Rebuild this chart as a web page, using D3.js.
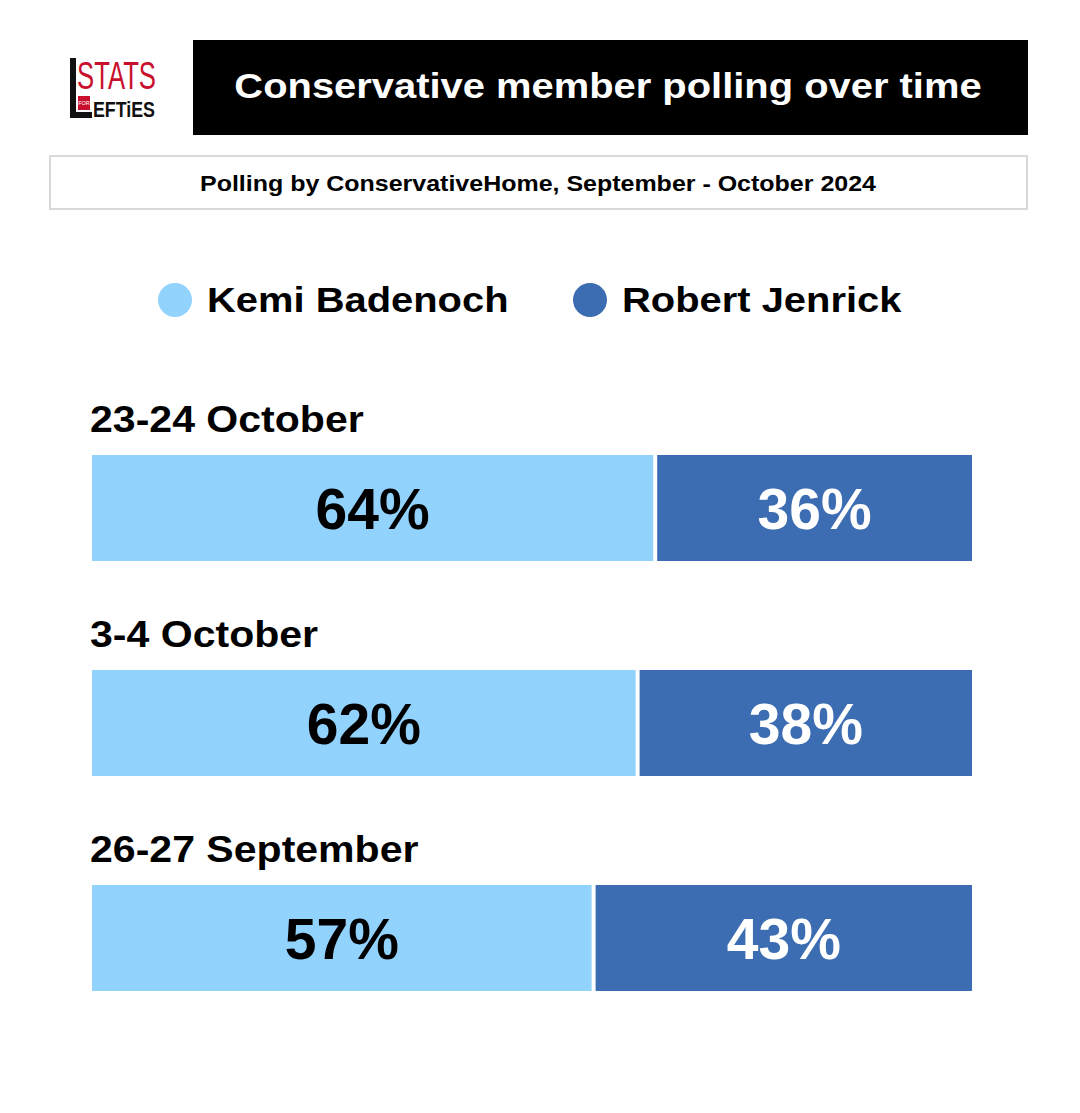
<!DOCTYPE html>
<html><head><meta charset="utf-8">
<script src="https://cdn.jsdelivr.net/npm/d3@7"></script>
<style>body{margin:0;background:#fff;}svg{display:block;font-family:"Liberation Sans",Arial,Helvetica,sans-serif;}</style>
</head><body>
<script>
const categories = ["23-24 October", "3-4 October", "26-27 September"];
const seriesNames = ["Kemi Badenoch", "Robert Jenrick"];
const badenoch = [64, 62, 57];
const jenrick = [36, 38, 43];
const colors = ["#92D3FE", "#3C6CB1"];
const labelColors = ["#000", "#fff"];

const W = 1080, H = 1113;
const svg = d3.select("body").append("svg").attr("width", W).attr("height", H);

function stretch(sel, f) {
  const n = sel.node().getComputedTextLength();
  sel.attr("textLength", n * f).attr("lengthAdjust", "spacingAndGlyphs");
  return sel;
}

// Logo
const logo = svg.append("g");
logo.append("rect").attr("x",70).attr("y",58).attr("width",6).attr("height",60).attr("fill","#111");
logo.append("rect").attr("x",70).attr("y",112).attr("width",22).attr("height",6).attr("fill","#111");
logo.append("text").attr("x",77).attr("y",89).attr("font-size",38).attr("fill","#c8102e")
  .attr("textLength",79).attr("lengthAdjust","spacingAndGlyphs").text("STATS");
logo.append("rect").attr("x",78).attr("y",96).attr("width",12).attr("height",14).attr("fill","#c8102e");
logo.append("text").attr("x",84).attr("y",105).attr("font-size",5.5).attr("fill","#fff").attr("text-anchor","middle").text("FOR");
logo.append("text").attr("x",93).attr("y",117).attr("font-size",22).attr("font-weight","bold").attr("fill","#111")
  .attr("textLength",62).attr("lengthAdjust","spacingAndGlyphs").text("EFTiES");

// Title
svg.append("rect").attr("x",193).attr("y",40).attr("width",835).attr("height",95).attr("fill","#000");
stretch(svg.append("text").attr("x",608).attr("y",98).attr("text-anchor","middle").attr("font-size",35)
  .attr("font-weight","bold").attr("fill","#fff").text("Conservative member polling over time"), 1.14);

// Subtitle
svg.append("rect").attr("x",50).attr("y",156).attr("width",977).attr("height",53).attr("fill","#fff")
  .attr("stroke","#d9d9d9").attr("stroke-width",2);
stretch(svg.append("text").attr("x",538).attr("y",191).attr("text-anchor","middle").attr("font-size",22.5)
  .attr("font-weight","bold").attr("fill","#000").text("Polling by ConservativeHome, September - October 2024"), 1.11);

// Legend
const legX = [175, 590];
seriesNames.forEach((n,i)=>{
  svg.append("circle").attr("cx",legX[i]).attr("cy",300).attr("r",17).attr("fill",colors[i]);
  stretch(svg.append("text").attr("x",legX[i]+32).attr("y",312).attr("font-size",35).attr("font-weight","bold")
    .attr("fill","#000").text(n), 1.14);
});

// Scales
const x = d3.scaleLinear().domain([0,100]).range([92,972]);
const y = d3.scaleBand().domain(categories).range([400,1045]).paddingInner(0).paddingOuter(0);
const rowTop = c => y(c) + 55;
const barH = 106;
const gap = 2;

categories.forEach((c,i)=>{
  const g = svg.append("g");
  stretch(g.append("text").attr("x",90).attr("y",y(c)+32).attr("font-size",36).attr("font-weight","bold")
    .attr("fill","#000").text(c), 1.14);
  const segs = [[0, badenoch[i]], [badenoch[i], badenoch[i]+jenrick[i]]];
  segs.forEach((s,j)=>{
    const x0 = x(s[0]) + (j===1?gap:0);
    const x1 = x(s[1]) - (j===0?gap:0);
    g.append("rect").attr("x",x0).attr("y",rowTop(c)).attr("width",x1-x0).attr("height",barH).attr("fill",colors[j]);
    g.append("text").attr("x",(x0+x1)/2).attr("y",rowTop(c)+74).attr("text-anchor","middle")
      .attr("font-size",57).attr("font-weight","bold").attr("fill",labelColors[j])
      .text((j===0?badenoch[i]:jenrick[i])+"%");
  });
});
</script>
</body></html>
